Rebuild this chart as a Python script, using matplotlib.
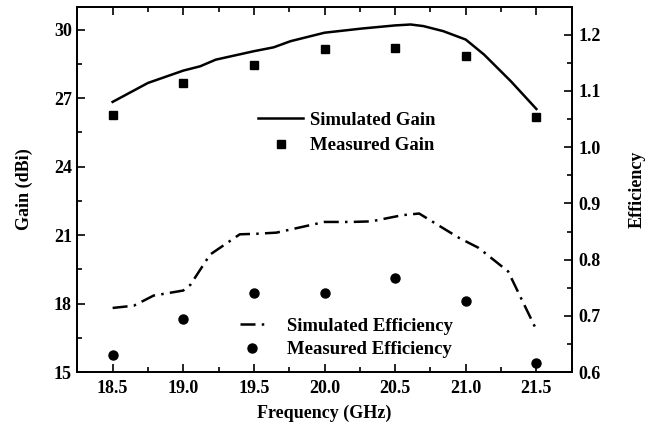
import numpy as np
import matplotlib.pyplot as plt

plt.rcParams['font.family'] = ['Liberation Serif', 'DejaVu Serif']
plt.rcParams['font.weight'] = 'bold'
plt.rcParams['axes.labelweight'] = 'bold'

# Simulated gain (dense trace) and measured gain
sim_gain_f = [18.5, 18.75, 19.0, 19.12, 19.23, 19.5, 19.64, 19.76, 20.0, 20.26,
              20.5, 20.61, 20.7, 20.84, 21.0, 21.13, 21.32, 21.5]
sim_gain = [26.83, 27.66, 28.2, 28.39, 28.68, 29.05, 29.22, 29.49, 29.86, 30.04,
            30.18, 30.22, 30.15, 29.93, 29.56, 28.9, 27.73, 26.52]

meas_f = [18.5, 19.0, 19.5, 20.0, 20.5, 21.0, 21.5]
meas_gain = [26.27, 27.66, 28.46, 29.15, 29.17, 28.86, 26.17]

# Simulated and measured radiation efficiency
sim_eff_f = [18.5, 18.65, 18.79, 19.0, 19.05, 19.19, 19.4, 19.52, 19.66, 20.0,
             20.19, 20.33, 20.55, 20.67, 20.95, 21.09, 21.3, 21.5]
sim_eff = [0.714, 0.718, 0.736, 0.745, 0.755, 0.809, 0.845, 0.846, 0.848, 0.867,
           0.867, 0.868, 0.879, 0.882, 0.839, 0.821, 0.779, 0.675]
meas_eff = [0.630, 0.695, 0.741, 0.741, 0.768, 0.727, 0.616]

fig = plt.figure(figsize=(6.47, 4.37), dpi=100)
ax = fig.add_axes([0.1195, 0.1487, 0.7641, 0.836])
ax2 = ax.twinx()

l1, = ax.plot(sim_gain_f, sim_gain, color='black', linewidth=1.8, label='Simulated Gain')
l2, = ax.plot(meas_f, meas_gain, 's', color='black', markersize=6, label='Measured Gain')

l3, = ax2.plot(sim_eff_f, sim_eff, color='black', linewidth=1.8,
               linestyle=(0, (6, 2.5, 1, 2.5)), label='Simulated Efficiency')
l4, = ax2.plot(meas_f, meas_eff, 'o', color='black', markersize=6.5, label='Measured Efficiency')

ax.set_xlim(18.25, 21.75)
ax.set_ylim(15, 31)
ax2.set_ylim(0.6, 1.25)

ax.set_xticks(np.arange(18.5, 21.51, 0.5))
ax.set_xticks(np.arange(18.25, 21.76, 0.25), minor=True)
ax.set_yticks(np.arange(15, 31, 3))
ax.set_yticks(np.arange(15, 31, 1.5), minor=True)
ax2.set_yticks(np.arange(0.6, 1.21, 0.1))
ax2.set_yticks(np.arange(0.6, 1.25, 0.05), minor=True)
ax.set_xticklabels([f'{v:.1f}' for v in np.arange(18.5, 21.51, 0.5)])
ax2.set_yticklabels([f'{v:.1f}' for v in np.arange(0.6, 1.21, 0.1)])

for a in (ax, ax2):
    a.tick_params(which='both', direction='in', labelsize=13, width=1.2)
    a.tick_params(which='major', length=6)
    a.tick_params(which='minor', length=3.5)
    for s in a.spines.values():
        s.set_linewidth(1.3)
ax.tick_params(which='both', top=True, right=False)
ax.tick_params(axis='x', pad=6)
ax.tick_params(axis='y', pad=4)
ax2.tick_params(axis='y', pad=5)

ax.set_xlabel('Frequency (GHz)', fontsize=13, labelpad=5)
ax.set_ylabel('Gain (dBi)', fontsize=13, labelpad=15)
ax2.set_ylabel('Efficiency', fontsize=13, labelpad=20)

ax.legend(handles=[l1, l2], loc='center left', bbox_to_anchor=(0.3655, 0.654),
          frameon=False, fontsize=13.5, borderpad=0, handlelength=2.4,
          handletextpad=0.37, labelspacing=0.45, borderaxespad=0)
ax2.legend(handles=[l3, l4], loc='center left', bbox_to_anchor=(0.329, 0.093),
           frameon=False, fontsize=13.5, borderpad=0, handlelength=1.33,
           handletextpad=1.2, labelspacing=0.34, borderaxespad=0)

fig.savefig('out.png', dpi=100)
